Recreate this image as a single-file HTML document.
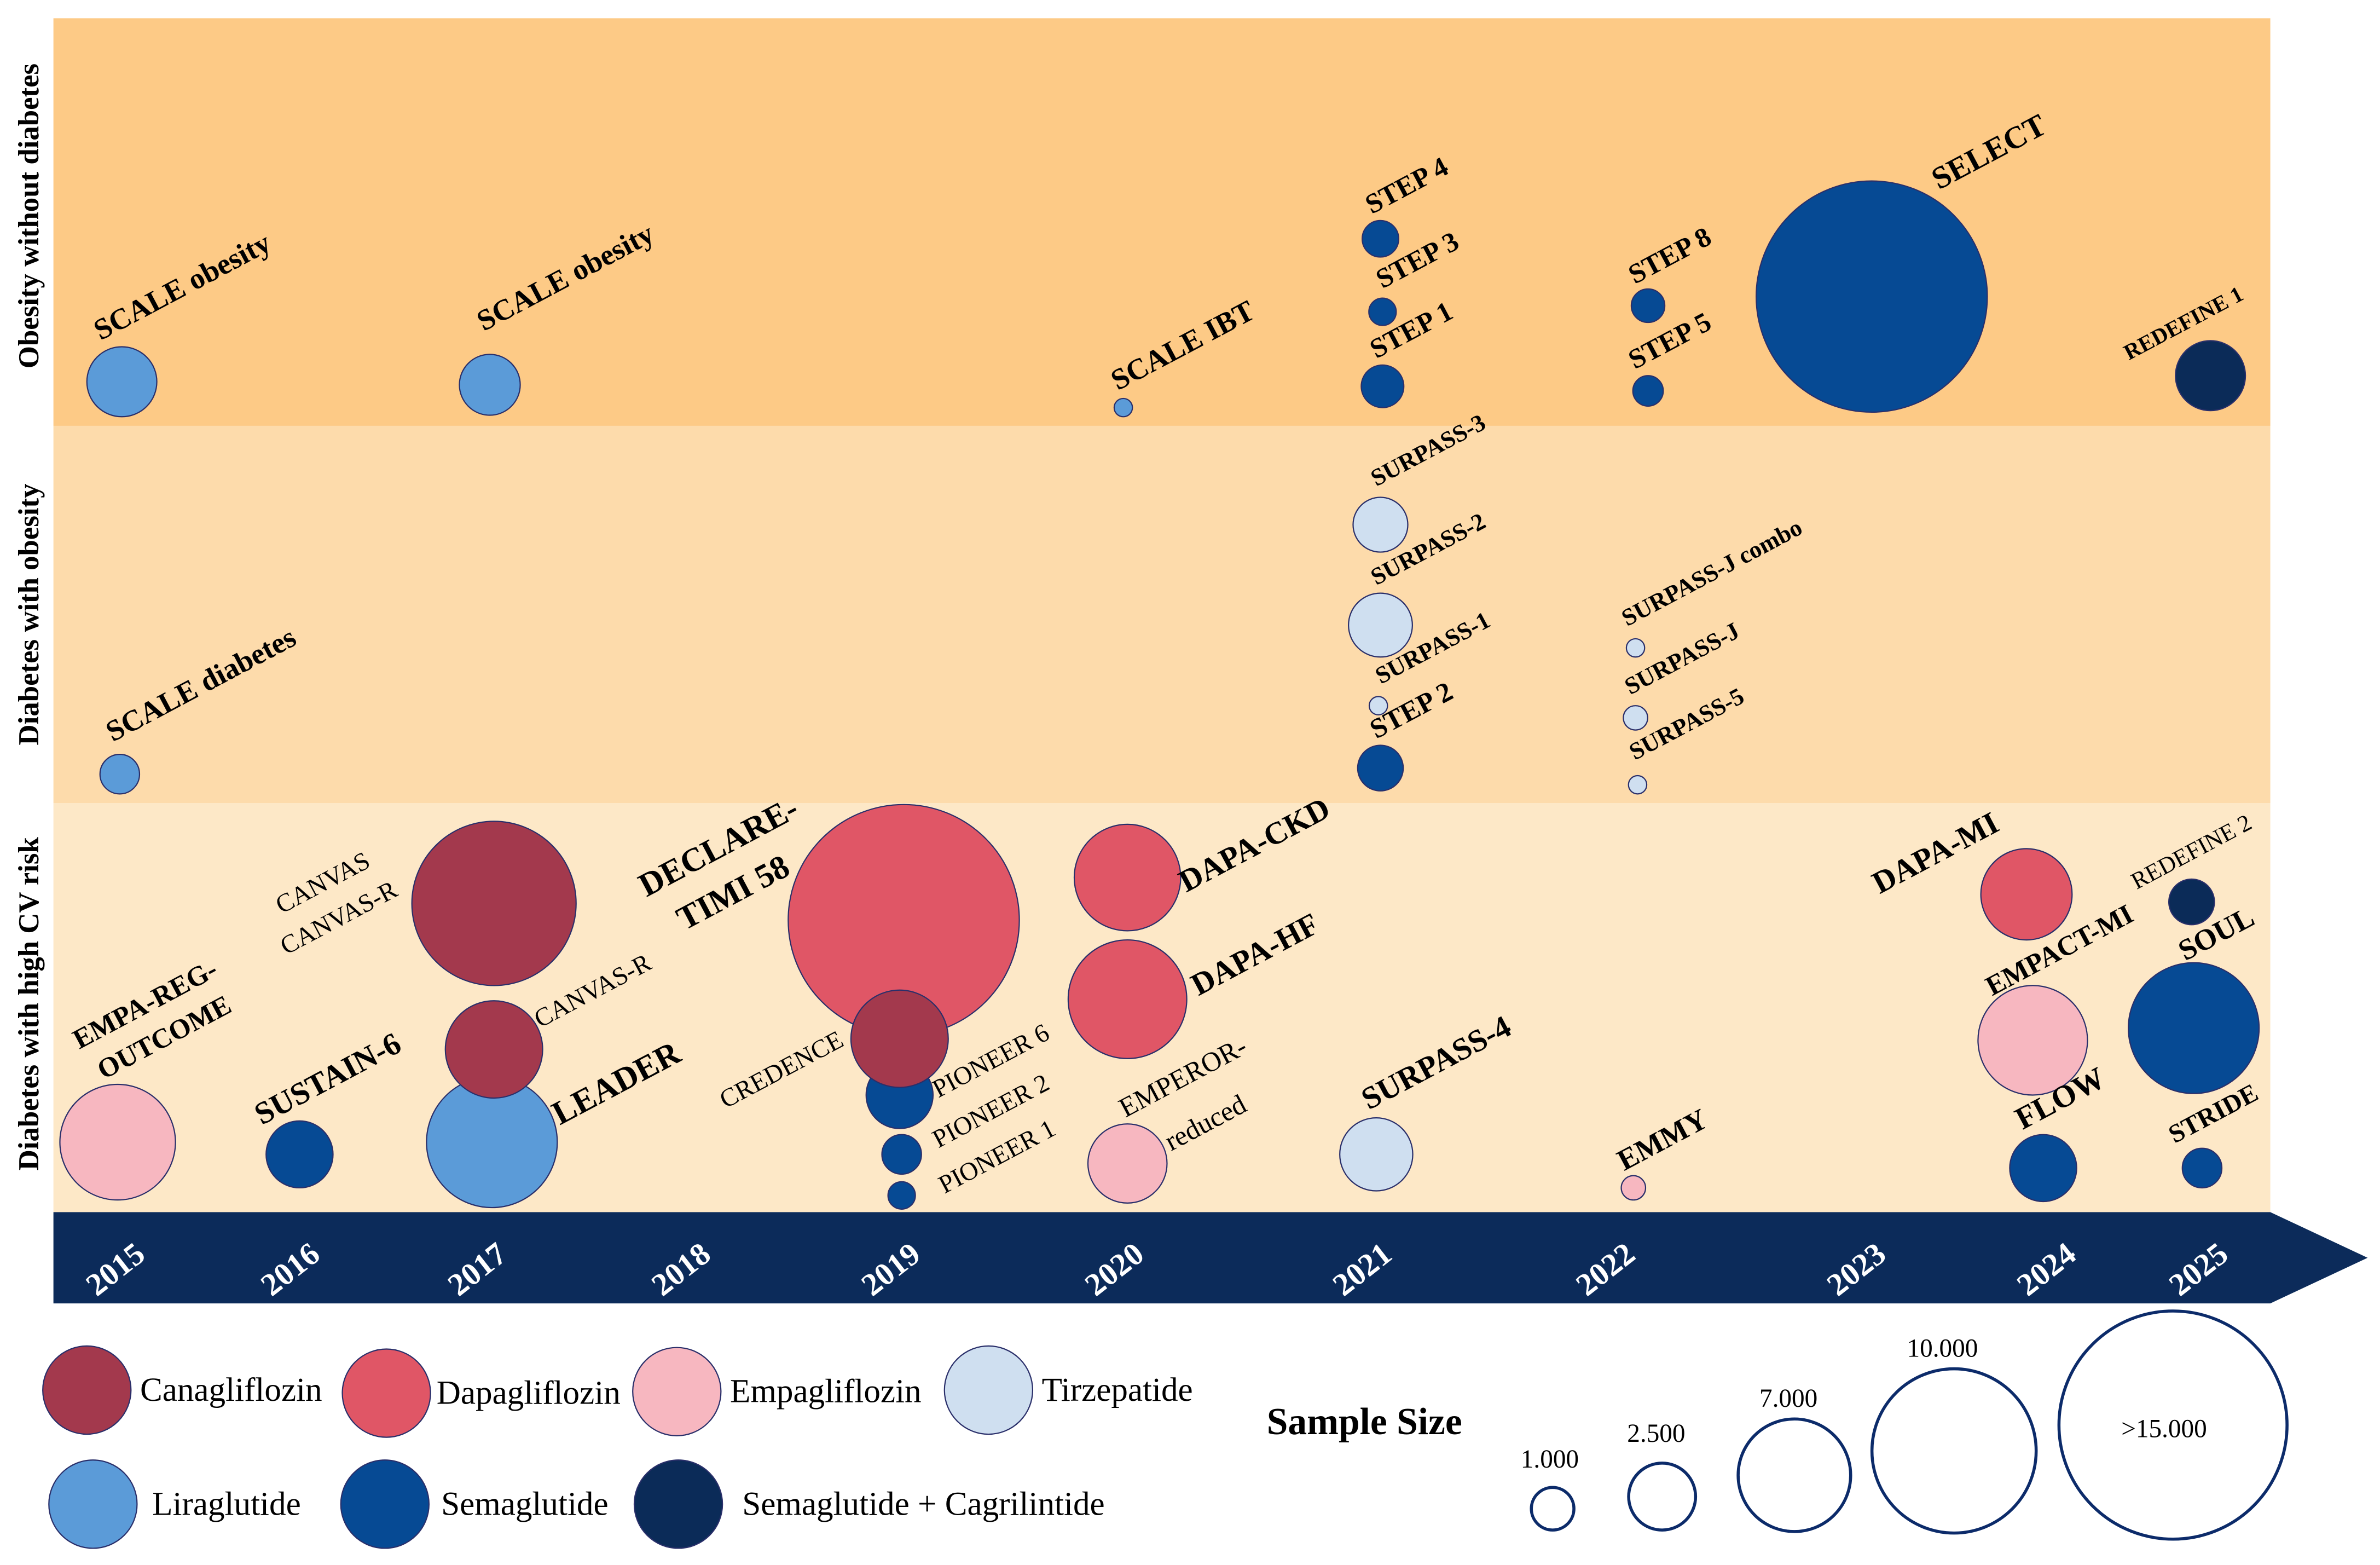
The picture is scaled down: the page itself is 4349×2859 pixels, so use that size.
<!DOCTYPE html>
<html><head><meta charset="utf-8"><style>
html,body{margin:0;padding:0;background:#fff;}
svg{display:block;}
text{font-family:"Liberation Serif",serif;}
</style></head><body>
<svg id="chart" width="4349" height="2859" viewBox="0 0 1565 1029" xmlns="http://www.w3.org/2000/svg">
<rect x="35" y="12" width="1458" height="268" fill="#fdca86"/>
<rect x="35" y="280" width="1458" height="248" fill="#fddbab"/>
<rect x="35" y="528" width="1458" height="269" fill="#fde8c7"/>
<text transform="translate(25,142) rotate(-90)" text-anchor="middle" font-size="19" font-weight="bold">Obesity without diabetes</text>
<text transform="translate(25,404) rotate(-90)" text-anchor="middle" font-size="19" font-weight="bold">Diabetes with obesity</text>
<text transform="translate(25,660) rotate(-90)" text-anchor="middle" font-size="19" font-weight="bold">Diabetes with high CV risk</text>
<polygon points="35,797 1493,797 1557,827 1493,857 35,857" fill="#0c2b5a"/>
<g id="years"></g>
<g id="bubbles"></g>
<g id="labels"></g>
<g id="legend"></g>
</svg>
<script>
const NS="http://www.w3.org/2000/svg";
const drugColors={cana:"#a3394d",dapa:"#e05666",empa:"#f7b7c0",tirz:"#cfdff0",lira:"#5b9bd8",sema:"#064a94",cagri:"#0b2b58"};
const trialNames=["SCALE obesity 2015","SCALE obesity 2017","SCALE IBT","STEP 4","STEP 3","STEP 1","STEP 8","STEP 5","SELECT","REDEFINE 1",
"SCALE diabetes","SURPASS-3","SURPASS-2","SURPASS-1","STEP 2","SURPASS-J combo","SURPASS-J","SURPASS-5",
"EMPA-REG OUTCOME","SUSTAIN-6","CANVAS","LEADER","CANVAS-R","DECLARE-TIMI 58","PIONEER 6","CREDENCE","PIONEER 2","PIONEER 1","DAPA-CKD","DAPA-HF","EMPEROR-reduced","SURPASS-4","EMMY","DAPA-MI","EMPACT-MI","FLOW","REDEFINE 2","SOUL","STRIDE"];
const trialYear=[2015.0,2016.76,2019.79,2021.02,2021.03,2021.03,2022.3,2022.3,2023.37,2024.99,
2014.99,2021.02,2021.02,2021.01,2021.02,2022.24,2022.24,2022.25,
2014.98,2015.85,2016.78,2016.77,2016.78,2018.74,2018.72,2018.72,2018.73,2018.73,2019.81,2019.81,2019.81,2021.0,2022.23,2024.11,2024.14,2024.19,2024.9,2024.91,2024.95];
const trialSize=[2612,1975,178,711,400,968,598,494,28520,2612,
835,1600,2178,178,1111,178,316,178,
7130,2390,14400,9130,5056,28520,2390,5056,835,400,6050,7510,3340,2845,316,4446,6400,2390,1111,9130,835];
const trialDrug=["lira","lira","lira","sema","sema","sema","sema","sema","sema","cagri",
"lira","tirz","tirz","tirz","sema","tirz","tirz","tirz",
"empa","sema","cana","lira","cana","dapa","sema","cana","sema","sema","dapa","dapa","empa","tirz","empa","dapa","empa","sema","cagri","sema","sema"];
const trialLaneY=[251,253,268,157,205,254,201,257,195,247,
509,345,411,464,505,426,472,516,
751,759,594,751,690,605,720,683,759,786,577,657,765,759,781,588,684,768,593,676,768];
const yearTicks=["2015","2016","2017","2018","2019","2020","2021","2022","2023","2024","2025"];
const yearTickX=[80,195,318,452,590,737,900,1060,1225,1350,1450];
function xScale(y){return 80+(y-2015)*137.5;}
function rScale(n){return 0.45*Math.sqrt(n);}
function mk(tag,attrs,parent){const e=document.createElementNS(NS,tag);for(const k in attrs)e.setAttribute(k,attrs[k]);parent.appendChild(e);return e;}
const yg=document.getElementById("years");
yearTicks.forEach((t,i)=>{const e=mk("text",{transform:`translate(${yearTickX[i]},${840}) rotate(-38)`,"text-anchor":"middle","font-size":"21","font-weight":"bold",fill:"#fff"},yg);


e.textContent=t;});
const bg=document.getElementById("bubbles");
trialNames.forEach((n,i)=>{const c=mk("circle",{cx:xScale(trialYear[i]),cy:trialLaneY[i],r:rScale(trialSize[i]),fill:drugColors[trialDrug[i]],stroke:"#2a2f6a","stroke-width":"0.8"},bg);

});
const labels=[["SCALE obesity",66,224,16,1],["SCALE obesity",318,218,16,1],["SCALE IBT",735,257,16,1],["STEP 4",902,141,15,1],["STEP 3",909,190,15,1],["STEP 1",905,236,15,1],["STEP 8",1075,187,15,1],["STEP 5",1075,243,15,1],["SELECT",1275,125,17,1],["REDEFINE 1",1400,237,12,1],
["SURPASS-3",905,320,13,1],["SURPASS-2",905,385,13,1],["SURPASS-1",908,450,13,1],["STEP 2",905,486,15,1],["SURPASS-J combo",1070,412,13,1],["SURPASS-J",1072,457,13,1],["SURPASS-5",1075,500,13,1],["SCALE diabetes",74,488,16,1],
["EMPA-REG-",52,690,15,1],["OUTCOME",68,710,15,1],["SUSTAIN-6",172,740,17,1],["CANVAS",185,601,13,0],["CANVAS-R",188,628,13,0],["CANVAS-R",355,676,13,0],["LEADER",368,740,18,1],["DECLARE-",425,590,18,1],["TIMI 58",450,612,18,1],["CREDENCE",477,729,13,0],["PIONEER 6",617,722,13,0],["PIONEER 2",617,755,13,0],["PIONEER 1",621,785,13,0],["DAPA-CKD",780,587,17,1],["DAPA-HF",788,655,17,1],["EMPEROR-",740,735,14,0],["reduced",770,757,14,0],["SURPASS-4",900,730,17,1],["EMMY",1068,770,16,1],["DAPA-MI",1236,588,17,1],["EMPACT-MI",1310,655,15,1],["FLOW",1330,743,17,1],["REDEFINE 2",1405,585,12,0],["SOUL",1437,632,16,1],["STRIDE",1430,752,14,1]];
const lg=document.getElementById("labels");
labels.forEach(l=>{const e=mk("text",{transform:`translate(${l[1]},${l[2]}) rotate(-28)`,"font-size":(l[3]*(l[4]?1.22:1.3)).toFixed(1),"font-weight":l[4]?"bold":"normal",fill:"#000"},lg);


e.textContent=l[0];});
const leg=document.getElementById("legend");
const legendItems=[["Canagliflozin","cana",57,914,92],["Dapagliflozin","dapa",254,916,287],["Empagliflozin","empa",445,915,480],["Tirzepatide","tirz",650,914,685],["Liraglutide","lira",61,989,100],["Semaglutide","sema",253,989,290],["Semaglutide + Cagrilintide","cagri",446,989,488]];
legendItems.forEach(it=>{const c=mk("circle",{cx:it[2],cy:it[3],r:29,fill:drugColors[it[1]],stroke:"#2a2f6a","stroke-width":"0.8"},leg);


const t=mk("text",{x:it[4],y:it[3]+7,"font-size":"22"},leg);


t.textContent=it[0];});
const st=mk("text",{x:833,y:943,"font-size":"25","font-weight":"bold"},leg);


st.textContent="Sample Size";
const sizeItems=[["1.000",1021,992,14,1000,965],["2.500",1093,984,22,1070,948],["7.000",1180,970,37,1157,925],["10.000",1285,954,54,1254,892],[">15.000",1429,937,75,1395,945]];
sizeItems.forEach(s=>{const c=mk("circle",{cx:s[1],cy:s[2],r:s[3],fill:"#fff",stroke:"#0c2b6a","stroke-width":"2"},leg);


const t=mk("text",{x:s[4],y:s[5],"font-size":"17"},leg);


t.textContent=s[0];});
</script>
</body></html>
